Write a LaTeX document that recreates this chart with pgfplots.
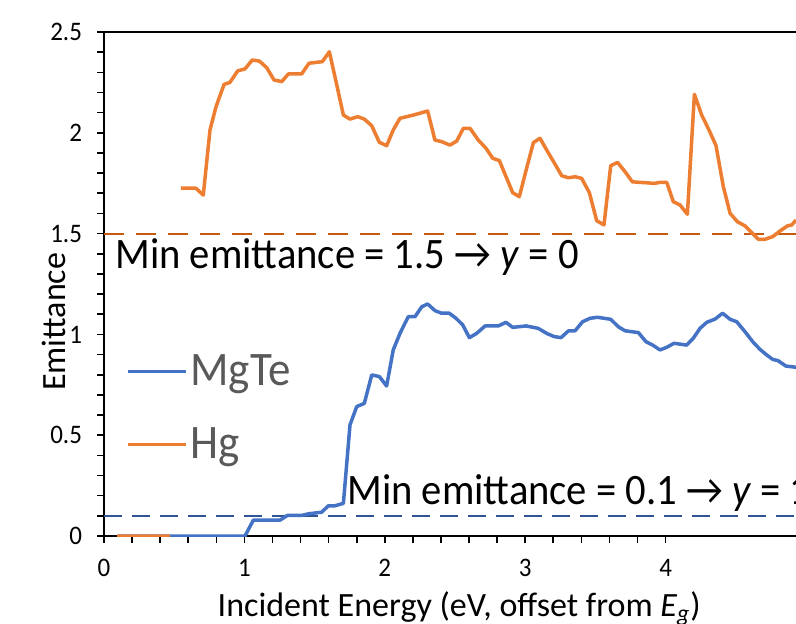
\documentclass[border=0pt]{standalone}
\usepackage{fontspec}
\setmainfont{Carlito}
\usepackage{pgfplots}
\pgfplotsset{compat=1.18}
\definecolor{mgblue}{HTML}{4472C4}
\definecolor{hgorange}{HTML}{ED7D31}
\definecolor{dkorange}{HTML}{C55A11}
\definecolor{dkblue}{HTML}{2F5597}
\definecolor{leggray}{HTML}{595959}
\begin{document}
\begin{tikzpicture}
\useasboundingbox (-52pt,-43.5pt) rectangle (346pt,268pt);
\clip (-52pt,-43.5pt) rectangle (346pt,268pt);
\begin{axis}[
  at={(0,0)}, anchor=south west,
  scale only axis,
  width=348.2pt, height=252pt,
  xmin=0, xmax=4.96, ymin=0, ymax=2.5,
  axis line style={line width=1pt},
  xtick={0,1,2,3,4}, minor x tick num=4,
  ytick={0,0.5,1,1.5,2,2.5}, minor y tick num=4,
  tick align=outside, tick pos=left,
  major tick length=3.5pt, minor tick length=3.5pt,
  every tick/.style={black, line width=0.8pt},
  every minor tick/.style={black, line width=0.8pt},
  /pgf/number format/assume math mode=true,
  tick label style={font=\fontsize{12.5}{14}\selectfont, yscale=1.07},
  yticklabel style={xshift=-4pt},
  xticklabel style={yshift=-4pt},
  xlabel={Incident Energy (eV, offset from \textit{E\textsubscript{g}})},
  ylabel={Emittance},
  xlabel style={font=\fontsize{17}{19}\selectfont,
    at={(axis description cs:0.51,0)}, anchor=base, yshift=-40pt},
  ylabel style={font=\fontsize{17}{19}\selectfont,
    at={([xshift=-19.5pt]axis description cs:0,0.425)}, anchor=base},
  unbounded coords=jump,
  legend style={draw=none, fill=none, at={(axis description cs:0.031,0.254)}, anchor=west,
    inner sep=0pt, row sep=16pt, font=\fontsize{22.5}{26}\selectfont, text=leggray,
    nodes={inner sep=1.5pt, yscale=1.07}},
  legend cell align=left,
  legend image code/.code={\draw[#1] (0pt,0pt) -- (29pt,0pt);},
]
\addplot[dkorange, line width=1pt, dash pattern=on 10pt off 6pt, forget plot] coordinates {(0,1.5)(5,1.5)};
\addplot[dkblue, line width=0.8pt, dash pattern=on 9pt off 5pt, forget plot] coordinates {(0,0.1)(5,0.1)};

\addplot[mgblue, line width=1.75pt, line join=round] coordinates {
(0.1,0)(1.004,0)(1.064,0.079)(1.254,0.079)(1.306,0.102)(1.408,0.102)(1.455,0.110)(1.55,0.118)
(1.598,0.150)(1.645,0.150)(1.705,0.162)(1.752,0.551)(1.80,0.642)(1.854,0.658)(1.907,0.799)
(1.961,0.791)(2.013,0.744)(2.060,0.923)(2.108,1.005)(2.167,1.088)(2.215,1.088)(2.263,1.137)
(2.305,1.151)(2.357,1.118)(2.405,1.105)(2.459,1.105)(2.507,1.080)(2.555,1.047)(2.602,0.984)
(2.654,1.005)(2.714,1.042)(2.808,1.042)(2.863,1.060)(2.911,1.035)(3.006,1.042)(3.093,1.030)
(3.153,1.005)(3.207,0.989)(3.255,0.984)(3.307,1.017)(3.355,1.018)(3.409,1.063)(3.462,1.080)
(3.514,1.085)(3.609,1.075)(3.663,1.038)(3.711,1.018)(3.806,1.009)(3.860,0.964)(3.908,0.947)
(3.960,0.923)(4.008,0.936)(4.060,0.956)(4.150,0.947)(4.197,0.981)(4.245,1.030)(4.293,1.060)
(4.352,1.076)(4.406,1.105)(4.459,1.075)(4.506,1.063)(4.566,1.013)(4.620,0.964)(4.672,0.926)
(4.720,0.898)(4.763,0.876)(4.80,0.870)(4.857,0.843)(4.929,0.837)
};
\addlegendentry{MgTe}

\addplot[hgorange, line width=1.75pt, line join=round] coordinates {
(0.093,0)(0.47,0)(0.51,nan)
(0.548,1.725)(0.655,1.725)(0.707,1.691)(0.755,2.014)(0.798,2.130)(0.855,2.240)(0.897,2.250)
(0.952,2.307)(1.004,2.317)(1.056,2.361)(1.106,2.356)(1.159,2.323)(1.211,2.262)(1.266,2.254)
(1.313,2.292)(1.408,2.292)(1.460,2.345)(1.555,2.353)(1.605,2.402)(1.650,2.262)(1.705,2.088)
(1.752,2.068)(1.807,2.080)(1.854,2.068)(1.907,2.035)(1.961,1.953)(2.013,1.936)(2.060,2.014)
(2.108,2.072)(2.203,2.088)(2.305,2.108)(2.357,1.964)(2.405,1.956)(2.464,1.939)(2.512,1.959)
(2.559,2.022)(2.607,2.022)(2.666,1.964)(2.721,1.923)(2.768,1.874)(2.816,1.862)(2.863,1.783)
(2.911,1.703)(2.958,1.683)(3.010,1.824)(3.058,1.951)(3.105,1.973)(3.160,1.906)(3.212,1.845)
(3.260,1.787)(3.307,1.777)(3.355,1.782)(3.402,1.774)(3.457,1.703)(3.509,1.564)(3.561,1.543)
(3.609,1.837)(3.658,1.853)(3.711,1.807)(3.763,1.757)(3.818,1.754)(3.870,1.752)(3.917,1.749)
(3.960,1.754)(4.008,1.754)(4.055,1.658)(4.103,1.642)(4.155,1.596)(4.205,2.191)(4.257,2.088)
(4.309,2.014)(4.359,1.936)(4.411,1.733)(4.459,1.601)(4.511,1.559)(4.566,1.538)(4.613,1.505)
(4.660,1.472)(4.708,1.472)(4.763,1.485)(4.815,1.513)(4.867,1.538)(4.898,1.543)(4.929,1.567)
};
\addlegendentry{Hg}

\node[anchor=base west, inner sep=0pt, yscale=1.07, font=\fontsize{20.3}{24}\selectfont] at (axis cs:0.078,1.325) {Min emittance = 1.5 → \textit{y} = 0};
\node[anchor=base west, inner sep=0pt, yscale=1.07, font=\fontsize{20.3}{24}\selectfont] at (axis cs:1.73,0.154) {Min emittance = 0.1 → \textit{y} = 1};
\end{axis}
\end{tikzpicture}
\end{document}
